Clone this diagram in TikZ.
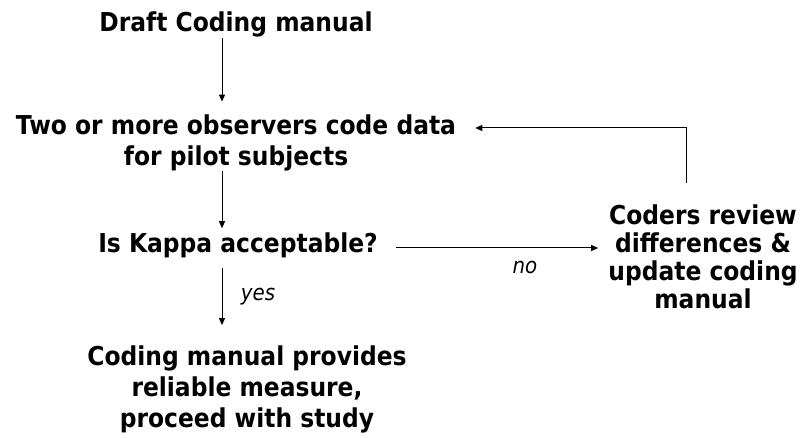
\documentclass[tikz,border=0pt]{standalone}
\usepackage{fontspec}
\setmainfont{DejaVu Sans}[FakeStretch=0.9]
\usetikzlibrary{arrows.meta}
\begin{document}
\begin{tikzpicture}[x=1bp,y=-1bp,
  txt/.style={font=\bfseries\fontsize{26bp}{31bp}\selectfont, align=center, inner sep=0pt},
  rtxt/.style={font=\bfseries\fontsize{26bp}{28bp}\selectfont, align=center, inner sep=0pt},
  lbl/.style={font=\itshape\fontsize{22bp}{26bp}\selectfont, inner sep=0pt},
  arr/.style={draw=black, line width=1bp, -{Triangle[length=7bp,width=6bp]}}]
\useasboundingbox (0,0) rectangle (805,438);
\coordinate (spine) at (222,0);
\coordinate (loop) at (686,128);
\node[txt] (draft) at (236,24) {Draft Coding manual};
\node[txt] (obs) at (236,143) {Two or more observers code data\\for pilot subjects};
\node[txt] (kappa) at (238,245) {Is Kappa acceptable?};
\node[txt] (result) at (247,389) {Coding manual provides\\reliable measure,\\proceed with study};
\node[rtxt] (coders) at (703,257) {Coders review\\differences \&\\update coding\\manual};
\node[lbl] (yes) at (258,297) {yes};
\node[lbl] (no) at (525,267) {no};
\draw[arr, shorten <=1bp, shorten >=13bp] (draft.south -| spine) -- (obs.north -| spine);
\draw[arr, shorten <=0bp, shorten >=4bp] (obs.south -| spine) -- (kappa.north -| spine);
\draw[arr, shorten <=10bp, shorten >=20bp] (kappa.south -| spine) -- (result.north -| spine);
\draw[arr, shorten <=18bp, shorten >=10bp] (kappa.east |- 0,248) -- (coders.west |- 0,248);
\draw[arr, shorten >=19bp] (coders.north -| loop) ++(0,-22) -- (loop) -- (obs.east |- loop);
\end{tikzpicture}
\end{document}
